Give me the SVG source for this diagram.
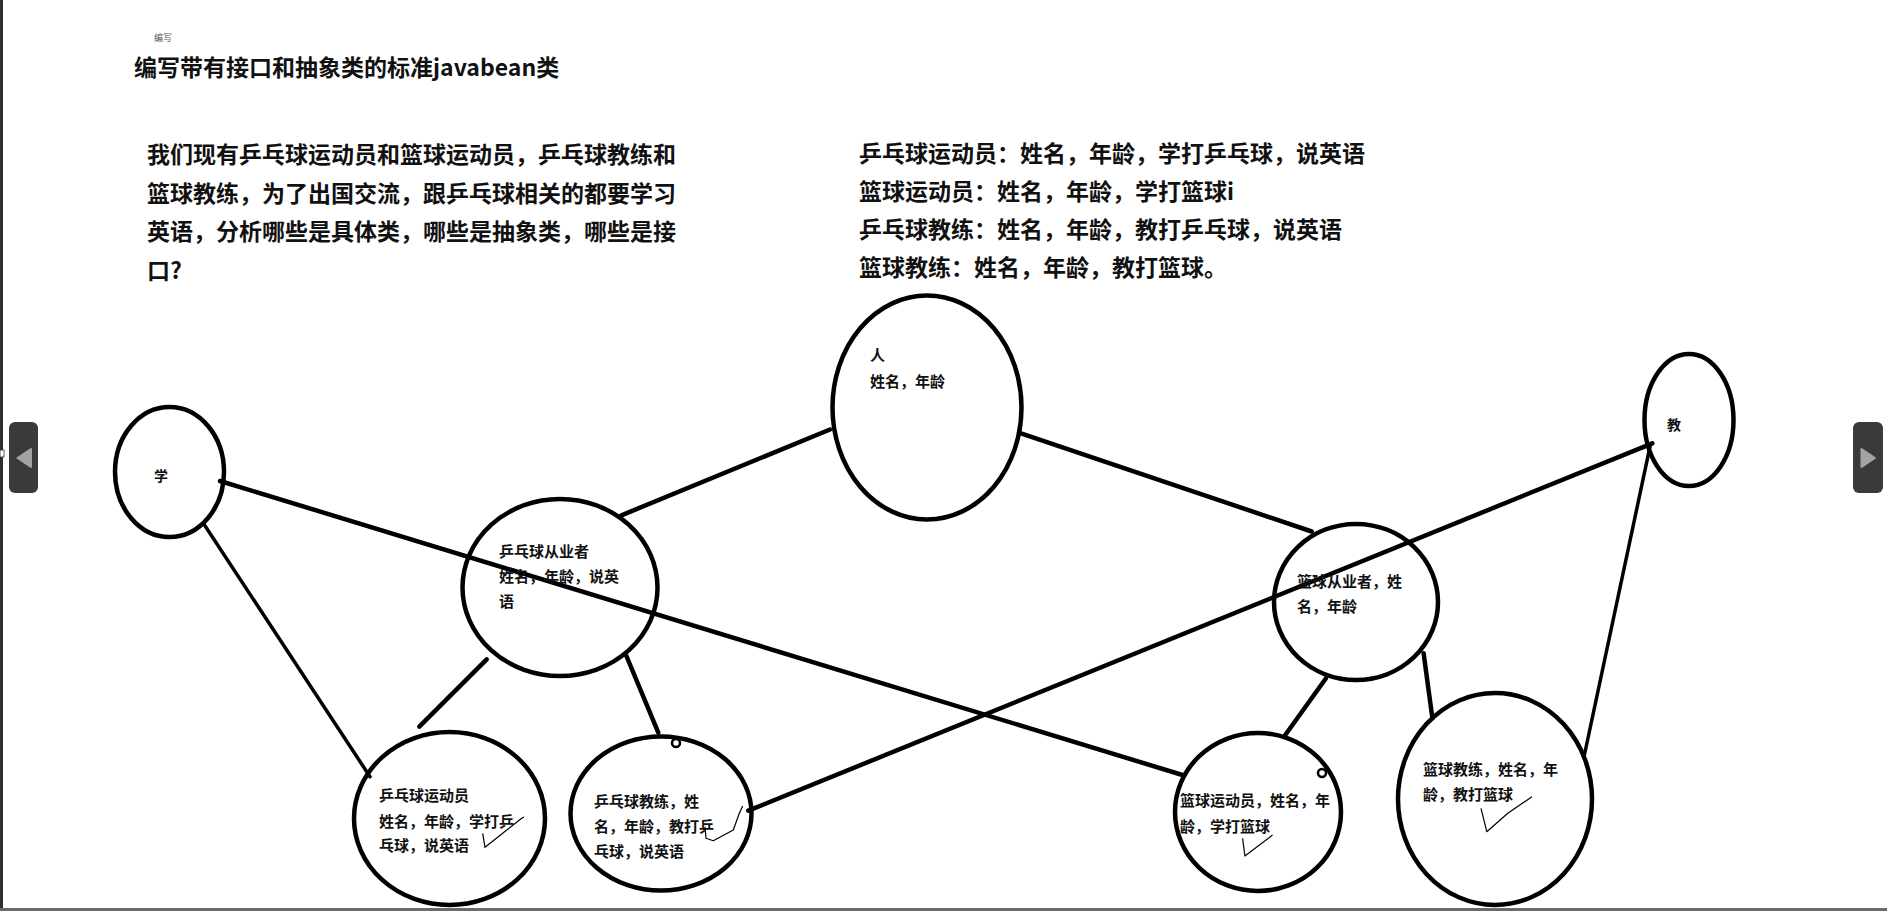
<svg xmlns="http://www.w3.org/2000/svg" width="1887" height="911" viewBox="0 0 1887 911">
<style>
text{font-family:"Noto Sans CJK SC","Noto Sans",sans-serif;font-weight:bold;fill:#111}
.big{font-size:23px}
.node{font-size:15px}
.ell{fill:none;stroke:#000;stroke-width:4.5}
.con{stroke:#000;stroke-width:4.5;stroke-linecap:round;fill:none}
.chk{stroke:#000;stroke-width:1.2;fill:none;stroke-linejoin:round}
.btn{fill:#3a3a3a}
.tri{fill:#a3a3a3}
</style>
<rect x="0" y="0" width="1887" height="911" fill="#fff"/>
<rect x="0" y="0" width="3" height="911" fill="#2a2f36"/>
<rect x="0" y="450" width="4" height="7" fill="#fff" stroke="#2a2f36" stroke-width="0.8"/>
<rect x="0" y="908" width="1887" height="3" fill="#6a6a6a"/>
<g id="nav-left"><rect class="btn" x="9" y="422" width="29" height="71" rx="6"/><path class="tri" d="M31 449 L31 467 L17.5 458 Z" stroke="#a3a3a3" stroke-width="2" stroke-linejoin="round"/></g>
<g id="nav-right"><rect class="btn" x="1853" y="422" width="30" height="71" rx="6"/><path class="tri" d="M1861.5 449 L1861.5 467 L1875 458 Z" stroke="#a3a3a3" stroke-width="2" stroke-linejoin="round"/></g>
<g id="header">
<text x="154" y="41" style="font-size:9px;font-weight:normal;fill:#555">编写</text>
<text class="big" x="134" y="76">编写带有接口和抽象类的标准javabean类</text>
</g>
<g id="question" class="big">
<text class="big" x="147" y="163">我们现有乒乓球运动员和篮球运动员，乒乓球教练和</text>
<text class="big" x="147" y="201.5">篮球教练，为了出国交流，跟乒乓球相关的都要学习</text>
<text class="big" x="147" y="240">英语，分析哪些是具体类，哪些是抽象类，哪些是接</text>
<text class="big" x="147" y="278.5">口?</text>
</g>
<g id="facts">
<text class="big" x="859" y="162">乒乓球运动员：姓名，年龄，学打乒乓球，说英语</text>
<text class="big" x="859" y="200">篮球运动员：姓名，年龄，学打篮球i</text>
<text class="big" x="859" y="238">乒乓球教练：姓名，年龄，教打乒乓球，说英语</text>
<text class="big" x="859" y="276">篮球教练：姓名，年龄，教打篮球。</text>
</g>
<g id="connectors">
<line class="con" x1="830" y1="429.5" x2="621.4" y2="515.3"/>
<line class="con" x1="1021" y1="433.3" x2="1311.7" y2="531.5"/>
<line class="con" x1="486.7" y1="659.3" x2="419.3" y2="726.7"/>
<line class="con" x1="626" y1="655" x2="658.3" y2="732.7"/>
<line class="con" x1="1326" y1="678.3" x2="1284" y2="736.7"/>
<line class="con" x1="1423.6" y1="653.3" x2="1432.4" y2="718.3"/>
<line class="con" style="stroke-width:3.5" x1="204.5" y1="525" x2="370" y2="776.7"/>
<line class="con" x1="220" y1="481" x2="1182.5" y2="775"/>
<line class="con" x1="748.3" y1="810.7" x2="1652.3" y2="443.3"/>
<line class="con" style="stroke-width:3.5" x1="1650" y1="446.7" x2="1584.4" y2="755"/>
</g>
<g id="node-xue">
<ellipse class="ell" cx="169.5" cy="472" rx="54.5" ry="65"/>
<text x="154" y="481" style="font-size:14px">学</text>
</g>
<g id="node-ren">
<ellipse class="ell" cx="927" cy="407.5" rx="94.5" ry="112"/>
<text class="node" x="870" y="361">人</text>
<text class="node" x="870" y="387">姓名，年龄</text>
</g>
<g id="node-jiao">
<ellipse class="ell" cx="1689" cy="420" rx="44.5" ry="66"/>
<text x="1667" y="430" style="font-size:14px">教</text>
</g>
<g id="node-pp-practitioner">
<ellipse class="ell" cx="560" cy="587.5" rx="97.5" ry="88.5"/>
<text class="node" x="499" y="557">乒乓球从业者</text>
<text class="node" x="499" y="582">姓名，年龄，说英</text>
<text class="node" x="499" y="607">语</text>
</g>
<g id="node-bb-practitioner">
<ellipse class="ell" cx="1356" cy="602" rx="82" ry="78"/>
<text class="node" x="1297" y="587">篮球从业者，姓</text>
<text class="node" x="1297" y="612">名，年龄</text>
</g>
<g id="node-pp-player">
<ellipse class="ell" cx="449.5" cy="818.5" rx="95.5" ry="86.5"/>
<text class="node" x="379" y="801">乒乓球运动员</text>
<text class="node" x="379" y="827">姓名，年龄，学打乒</text>
<text class="node" x="379" y="851">乓球，说英语</text>
<path class="chk" d="M482.7 833.3 L485 847.3 L503 833 L521.7 818.3 L524 817"/>
</g>
<g id="node-pp-coach">
<ellipse class="ell" cx="661" cy="813.5" rx="90.5" ry="77"/>
<circle cx="676" cy="743" r="4" fill="#fff" stroke="#000" stroke-width="2.5"/>
<text class="node" x="594" y="807">乒乓球教练，姓</text>
<text class="node" x="594" y="832">名，年龄，教打乒</text>
<text class="node" x="594" y="857">乓球，说英语</text>
<path class="chk" d="M705 826.7 L706 838.3 L713.3 840.7 L733.3 830 L739.3 813.3 L742.7 806"/>
</g>
<g id="node-bb-player">
<ellipse class="ell" cx="1258" cy="812" rx="83" ry="79"/>
<circle cx="1322" cy="773" r="4" fill="#fff" stroke="#000" stroke-width="2.5"/>
<text class="node" x="1180" y="806">篮球运动员，姓名，年</text>
<text class="node" x="1180" y="832">龄，学打篮球</text>
<path class="chk" d="M1242.6 838.3 L1244.9 856 L1272.5 835"/>
</g>
<g id="node-bb-coach">
<ellipse class="ell" cx="1495" cy="799" rx="97" ry="106"/>
<text class="node" x="1423" y="775">篮球教练，姓名，年</text>
<text class="node" x="1423" y="800">龄，教打篮球</text>
<path class="chk" d="M1481 808.3 L1486.8 831.7 L1507.8 813.3 L1532 796.7"/>
</g>
</svg>
